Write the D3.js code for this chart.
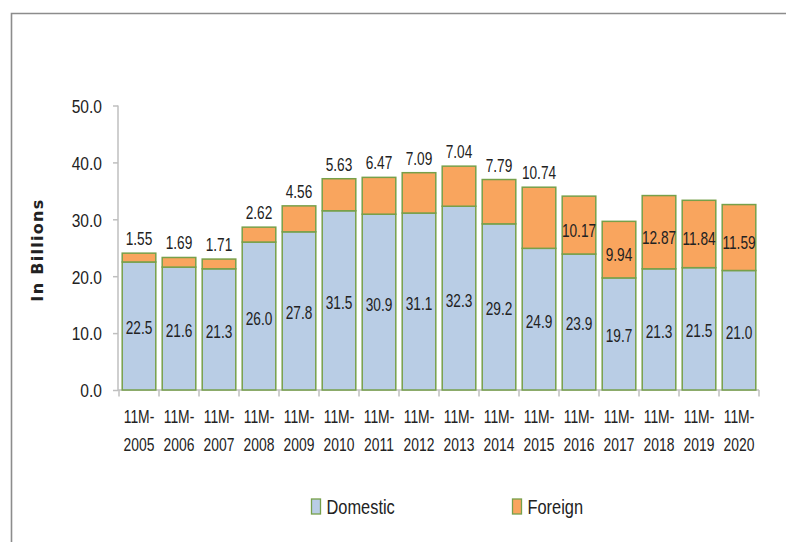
<!DOCTYPE html>
<html>
<head>
<meta charset="utf-8">
<script src="https://cdn.jsdelivr.net/npm/d3@7"></script>
<style>
  html, body { margin: 0; padding: 0; background: #fff; }
  svg text { font-family: "Liberation Sans", Arial, sans-serif; fill: #222; }
</style>
</head>
<body>
<svg id="chart" width="786" height="542"></svg>
<script>
// Period labels (first 11 months of each year)
const periods = ["2005","2006","2007","2008","2009","2010","2011","2012","2013","2014","2015","2016","2017","2018","2019","2020"];
const domestic = [22.5, 21.6, 21.3, 26.0, 27.8, 31.5, 30.9, 31.1, 32.3, 29.2, 24.9, 23.9, 19.7, 21.3, 21.5, 21.0];
const foreign  = [1.55, 1.69, 1.71, 2.62, 4.56, 5.63, 6.47, 7.09, 7.04, 7.79, 10.74, 10.17, 9.94, 12.87, 11.84, 11.59];
const foreignLabels = ["1.55","1.69","1.71","2.62","4.56","5.63","6.47","7.09","7.04","7.79","10.74","10.17","9.94","12.87","11.84","11.59"];
const yTicks = [0, 10, 20, 30, 40, 50];
const seriesNames = ["Domestic", "Foreign"];

const colors = { Domestic: "#B9CDE5", Foreign: "#F9A55E" };
const barStroke = "#77A04A";
const axisColor = "#BFBFBF";

const svg = d3.select("#chart");

// narrow text: place at (x,y) and compress horizontally
function narrowText(sel, fx, fy, sx) {
  return sel.attr("transform", (d, i) => `translate(${fx(d, i)},${fy(d, i)}) scale(${sx},1)`);
}

// outer frame
svg.append("path")
  .attr("d", "M11.5,542 V13.5 H786")
  .attr("fill", "none")
  .attr("stroke", "#8C8C8C")
  .attr("stroke-width", 1.6);

const rows = periods.map((p, i) => ({ period: p, Domestic: domestic[i], Foreign: foreign[i], flabel: foreignLabels[i], idx: i }));

const x = d3.scaleBand().domain(periods).range([119, 759]).paddingInner(0.16).paddingOuter(0.08);
const y = d3.scaleLinear().domain([0, 50]).range([390, 105.5]);

const layers = d3.stack().keys(seriesNames)(rows);

// y axis
const yAxis = svg.append("g").attr("transform", "translate(118,0)")
  .call(d3.axisLeft(y).tickValues(yTicks).tickFormat(d3.format(".1f")).tickSize(5));
yAxis.select(".domain").attr("stroke", axisColor).attr("stroke-width", 1.5).attr("d", `M0,${y(50)}V${y(0)}`);
yAxis.selectAll(".tick line").attr("stroke", axisColor).attr("stroke-width", 1.5);
yAxis.selectAll(".tick text")
  .attr("x", null).attr("dy", "0.36em")
  .attr("text-anchor", "end")
  .attr("fill", "#222")
  .style("font-size", "19px")
  .attr("transform", "translate(-16,0) scale(0.82,1)");

// x axis line and boundary ticks
const xAxisG = svg.append("g");
xAxisG.append("line")
  .attr("x1", 118).attr("x2", 759).attr("y1", y(0)).attr("y2", y(0))
  .attr("stroke", axisColor).attr("stroke-width", 1.5);
const bounds = periods.map(p => x(p) - x.step() * x.paddingInner() / 2).concat([759]);
xAxisG.selectAll("line.b").data(bounds).join("line")
  .attr("class", "b")
  .attr("x1", d => d).attr("x2", d => d)
  .attr("y1", y(0)).attr("y2", y(0) + 6.5)
  .attr("stroke", axisColor).attr("stroke-width", 1.5);

// category labels on two lines
const xl = xAxisG.selectAll("text.cat").data(periods).join("text")
  .attr("class", "cat")
  .attr("text-anchor", "middle")
  .style("font-size", "19px");
narrowText(xl, d => x(d) + x.bandwidth() / 2, () => 0, 0.73);
xl.append("tspan").attr("x", 0).attr("y", 423).text("11M-");
xl.append("tspan").attr("x", 0).attr("y", 451).text(d => d);

// stacked bars
svg.append("g").selectAll("g").data(layers).join("g")
  .attr("fill", d => colors[d.key])
  .selectAll("rect").data(d => d).join("rect")
  .attr("x", d => x(d.data.period))
  .attr("width", x.bandwidth())
  .attr("y", d => y(d[1]))
  .attr("height", d => y(d[0]) - y(d[1]))
  .attr("stroke", barStroke)
  .attr("stroke-width", 1.5);

// domestic value labels
const dl = svg.append("g").selectAll("text").data(layers[0]).join("text")
  .attr("dy", "0.36em")
  .attr("text-anchor", "middle")
  .style("font-size", "18px")
  .text(d => d.data.Domestic.toFixed(1));
narrowText(dl, d => x(d.data.period) + x.bandwidth() / 2, d => (y(d[0]) + y(d[1])) / 2 + 2, 0.76);

// foreign value labels: above the bar while the segment is small, inside afterwards
const fl = svg.append("g").selectAll("text").data(layers[1]).join("text")
  .attr("dy", d => d.data.idx <= 10 ? "0" : "0.36em")
  .attr("text-anchor", "middle")
  .style("font-size", "18px")
  .text(d => d.data.flabel);
narrowText(fl, d => x(d.data.period) + x.bandwidth() / 2,
  d => d.data.idx <= 10 ? y(d[1]) - 8 : (y(d[0]) + y(d[1])) / 2 + 5, 0.76);

// y axis title
svg.append("text")
  .attr("transform", "translate(43,250) rotate(-90)")
  .attr("text-anchor", "middle")
  .style("font-family", "'DejaVu Sans', sans-serif")
  .style("font-weight", "bold")
  .style("font-size", "16px")
  .style("letter-spacing", "1.3px")
  .text("In Billions");

// legend
const legendPos = [{ key: "Domestic", x: 311.5 }, { key: "Foreign", x: 512.5 }];
const lg = svg.append("g").selectAll("g").data(legendPos).join("g")
  .attr("transform", d => `translate(${d.x},0)`);
lg.append("rect")
  .attr("x", 0).attr("y", 499).attr("width", 9).attr("height", 15)
  .attr("fill", d => colors[d.key])
  .attr("stroke", barStroke).attr("stroke-width", 1.3);
const lt = lg.append("text")
  .attr("dy", "0.36em")
  .style("font-size", "20px")
  .text(d => d.key);
narrowText(lt, () => 15, () => 507, 0.82);
</script>
</body>
</html>
